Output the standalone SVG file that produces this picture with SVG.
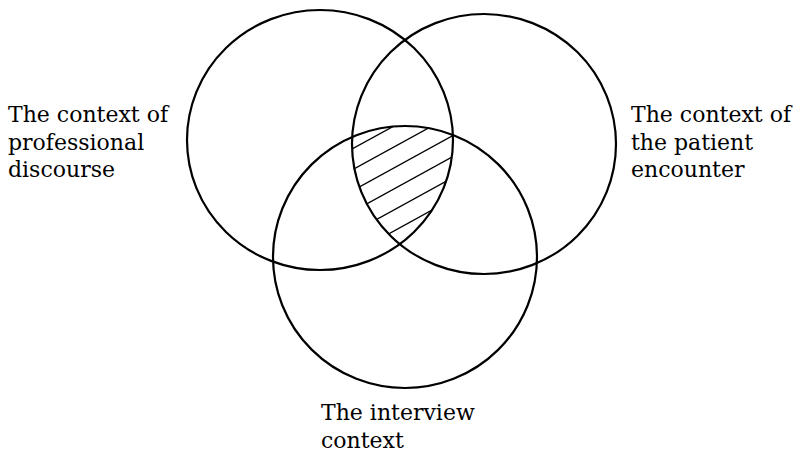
<svg xmlns="http://www.w3.org/2000/svg" width="798" height="454" viewBox="0 0 798 454">
<style>
.c{fill:none;stroke:#000;stroke-width:2.2}
.h{stroke:#000;stroke-width:1.3}
text{font-family:"DejaVu Serif","Liberation Serif",serif;font-size:22px;fill:#000}
</style>
<defs>
<clipPath id="cA"><ellipse cx="320" cy="140" rx="133" ry="130"/></clipPath>
<clipPath id="cB"><ellipse cx="484" cy="144" rx="132" ry="130"/></clipPath>
<clipPath id="cC"><ellipse cx="405" cy="257" rx="132" ry="131"/></clipPath>
</defs>
<rect width="798" height="454" fill="#fff"/>
<g id="hatch" clip-path="url(#cA)">
<g clip-path="url(#cB)">
<g clip-path="url(#cC)">
<line class="h" x1="330" y1="161.2" x2="480" y2="78.7"/>
<line class="h" x1="330" y1="182.2" x2="480" y2="99.7"/>
<line class="h" x1="330" y1="203.2" x2="480" y2="120.7"/>
<line class="h" x1="330" y1="224.2" x2="480" y2="141.7"/>
<line class="h" x1="330" y1="245.2" x2="480" y2="162.7"/>
<line class="h" x1="330" y1="266.2" x2="480" y2="183.7"/>
</g>
</g>
</g>
<g id="professional">
<ellipse class="c" cx="320" cy="140" rx="133" ry="130"/>
<text x="8" y="122">The context of</text>
<text x="8" y="149.5">professional</text>
<text x="8" y="177">discourse</text>
</g>
<g id="patient">
<ellipse class="c" cx="484" cy="144" rx="132" ry="130"/>
<text x="631" y="122">The context of</text>
<text x="631" y="149.5">the patient</text>
<text x="631" y="177">encounter</text>
</g>
<g id="interview">
<ellipse class="c" cx="405" cy="257" rx="132" ry="131"/>
<text x="321" y="420">The interview</text>
<text x="321" y="448">context</text>
</g>
<g id="connectors"/>
</svg>
